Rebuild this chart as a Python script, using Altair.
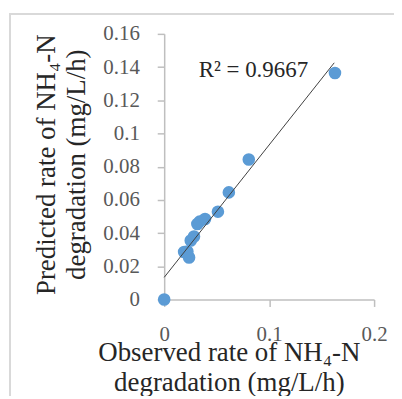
import altair as alt
import pandas as pd

observed = [0.0, 0.019, 0.0237, 0.0221, 0.0253, 0.0284, 0.0316, 0.0338, 0.0389, 0.0512, 0.0616, 0.0806, 0.1627]
predicted = [0.0, 0.0286, 0.0253, 0.0289, 0.0355, 0.0379, 0.0455, 0.0469, 0.0485, 0.0529, 0.0645, 0.0843, 0.1364]
x_ticks = [0, 0.1, 0.2]
y_ticks = [0, 0.02, 0.04, 0.06, 0.08, 0.1, 0.12, 0.14, 0.16]
r2_label = ["R² = 0.9667"]
r2_pos_x = [0.085]
r2_pos_y = [0.138]

df = pd.DataFrame({"x": observed, "y": predicted})
ann = pd.DataFrame({"label": r2_label, "x": r2_pos_x, "y": r2_pos_y})

FONT = "Liberation Serif"

xscale = alt.Scale(domain=[0, 0.2], nice=False, zero=True)
yscale = alt.Scale(domain=[0, 0.16], nice=False, zero=True)

common = dict(
    format="~g", grid=False, labelOverlap=False, labelFlush=False, labelBound=False,
    labelFont=FONT, labelFontSize=21, labelColor="#595959",
    domainColor="#bfbfbf", tickColor="#bfbfbf", domainWidth=1.5, tickWidth=1.5,
    tickSize=7, titleFont=FONT, titleFontWeight="normal", titleColor="#262626",
    titleFontSize=27,
)

xaxis = alt.Axis(
    values=x_ticks, labelPadding=17,
    title=["Observed rate of NH₄-N", "degradation (mg/L/h)"],
    titleX=65, titleY=61, titleAlign="center", titleBaseline="alphabetic",
    titleLineHeight=30, **common,
)
yaxis = alt.Axis(
    values=y_ticks, labelPadding=18,
    title=["Predicted rate of NH₄-N", "degradation (mg/L/h)"],
    titleX=-110, titleY=131, titleAlign="center", titleBaseline="alphabetic", titleAngle=-90,
    titleLineHeight=30, **common,
)

enc_x = alt.X("x:Q", scale=xscale, axis=xaxis)
enc_y = alt.Y("y:Q", scale=yscale, axis=yaxis)

border = alt.Chart(pd.DataFrame({"a": [0]})).mark_rect(
    fill="transparent", stroke="#d9d9d9", strokeWidth=2
).encode(
    x=alt.value(-155), x2=alt.value(260), y=alt.value(-20), y2=alt.value(420)
)

points = alt.Chart(df).mark_circle(size=160, color="#5B9BD5", opacity=1).encode(
    x=enc_x, y=enc_y,
)

trend = alt.Chart(df).transform_regression(
    "x", "y", extent=[0, 0.162]
).mark_line(color="#404040", strokeWidth=1).encode(
    x=enc_x, y=enc_y,
)

text = alt.Chart(ann).mark_text(
    font=FONT, fontSize=23, color="#262626", align="center", baseline="middle"
).encode(
    x=enc_x, y=enc_y,
    text="label:N",
)

chart = alt.layer(points, trend, text, border).properties(
    width=211, height=267,
    autosize=alt.AutoSizeParams(type="none"),
    padding={"left": 157, "top": 25, "right": 20, "bottom": 96},
    background="white",
).configure_view(stroke=None)

chart.save("out.html", embed_options={"renderer": "svg", "actions": False})
